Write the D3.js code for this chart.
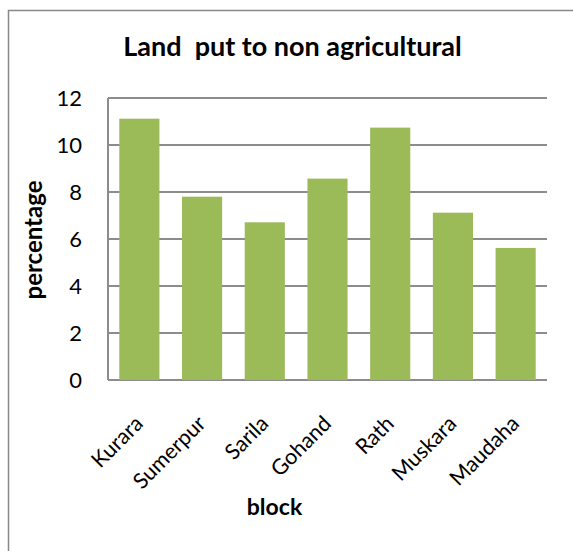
<!DOCTYPE html>
<html><head><meta charset="utf-8">
<script src="https://cdn.jsdelivr.net/npm/d3@7"></script>
<style>body{margin:0;background:#fff}svg{display:block}</style>
</head><body>
<script>
const categories = ["Kurara","Sumerpur","Sarila","Gohand","Rath","Muskara","Maudaha"];
const values = [11.12, 7.80, 6.71, 8.57, 10.74, 7.12, 5.62];
const yTicks = [0,2,4,6,8,10,12];
const title = "Land  put to non agricultural";
const xTitle = "block";
const yTitle = "percentage";

const W = 573, H = 551;
const m = {left:108, right:26, top:98, bottom:171};
const svg = d3.select("body").append("svg").attr("width",W).attr("height",H);
const font = "Lato, 'Open Sans', sans-serif";

svg.append("rect").attr("x",8.5).attr("y",10.5).attr("width",W+10).attr("height",H+10)
  .attr("fill","none").attr("stroke","#888").attr("stroke-width",1.5);

const x = d3.scaleBand().domain(categories).range([m.left, W-m.right]).paddingInner(0.36).paddingOuter(0.18);
const y = d3.scaleLinear().domain([0,12]).range([H-m.bottom, m.top]);

// gridlines
svg.append("g").selectAll("line").data(yTicks).join("line")
  .attr("x1",m.left).attr("x2",W-m.right).attr("y1",d=>y(d)).attr("y2",d=>y(d))
  .attr("stroke","#8c8c8c").attr("stroke-width",2);

// y axis line
svg.append("line").attr("x1",m.left).attr("x2",m.left).attr("y1",y(12)).attr("y2",y(0))
  .attr("stroke","#8c8c8c").attr("stroke-width",2);

// bars
svg.append("g").selectAll("rect").data(values).join("rect")
  .attr("x",(d,i)=>x(categories[i])).attr("width",x.bandwidth())
  .attr("y",d=>y(d)).attr("height",d=>y(0)-y(d))
  .attr("fill","#9bbb59");

// y tick labels
const yAxis = d3.axisLeft(y).tickValues(yTicks).tickSize(0).tickPadding(0);
const gy = svg.append("g").attr("transform",`translate(82,0)`).call(yAxis);
gy.select(".domain").remove();
gy.selectAll("text").attr("font-family",font).attr("font-size",22).attr("fill","#000").attr("text-anchor","end").attr("dy","0.36em");

// x tick labels
const xAxis = d3.axisBottom(x).tickSize(0).tickPadding(0);
const gx = svg.append("g").attr("transform",`translate(0,${y(0)})`).call(xAxis);
gx.select(".domain").remove();
gx.selectAll("text").attr("font-family",font).attr("font-size",21.5).attr("fill","#000")
  .attr("text-anchor","end").attr("dy",null).attr("y",null)
  .attr("transform","translate(5,45) rotate(-45)");

// titles
svg.append("text").attr("x",292.5).attr("y",56).attr("text-anchor","middle")
  .attr("font-family",font).attr("font-weight","bold").attr("font-size",27).attr("xml:space","preserve").text(title);
svg.append("text").attr("x",274.5).attr("y",515).attr("text-anchor","middle")
  .attr("font-family",font).attr("font-weight","bold").attr("font-size",23).text(xTitle);
svg.append("text").attr("transform",`translate(42,240) rotate(-90)`).attr("text-anchor","middle")
  .attr("font-family",font).attr("font-weight","bold").attr("font-size",24).text(yTitle);
</script>
</body></html>
